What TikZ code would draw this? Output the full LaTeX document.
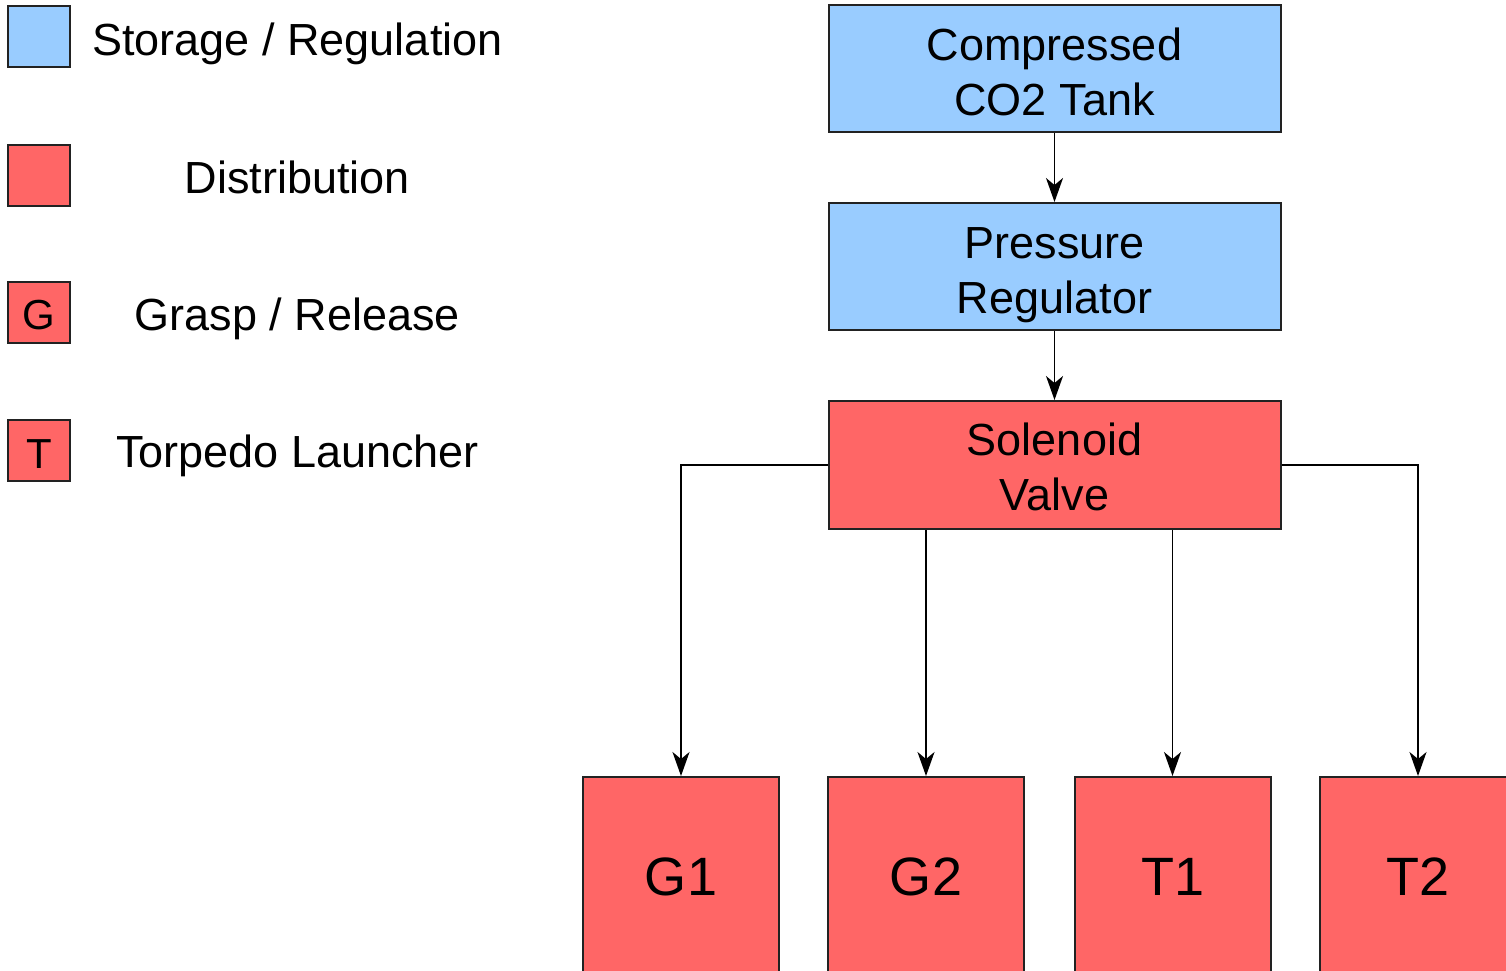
\documentclass[tikz,border=0pt]{standalone}
\usepackage{fontspec}
\setmainfont{Liberation Sans}
\usetikzlibrary{arrows.meta}
\definecolor{blu}{HTML}{99CCFF}
\definecolor{rd}{HTML}{FF6666}
\definecolor{edge}{HTML}{222222}
\tikzset{
  box/.style={draw=edge, line width=2pt, rectangle, inner sep=0pt, align=center,
    font=\fontsize{45}{55}\selectfont},
  mainbox/.style={box, minimum width=452pt, minimum height=127pt, text height=93pt, text depth=0pt},
  endbox/.style={box, fill=rd, minimum width=196pt, minimum height=198pt,
    font=\fontsize{54}{60}\selectfont, text height=39pt, text depth=0pt},
  legbox/.style={box, minimum width=62pt, minimum height=61pt,
    font=\fontsize{42}{44}\selectfont, text height=35pt, text depth=0pt},
  legtext/.style={anchor=base, inner sep=0pt, font=\fontsize{45}{55}\selectfont},
  conn/.style={draw=black, line width=1.8pt, -{Stealth[length=24pt,width=17pt,inset=7pt]}}
}
\begin{document}
\begin{tikzpicture}[x=1pt,y=-1pt]
\useasboundingbox (0,0) rectangle (1506,970);
\clip (0,0) rectangle (1506,970);
% legend
\node[legbox, fill=blu] (lb1) at (39,36.5) {};
\node[legbox, fill=rd] (lb2) at (39,175) {};
\node[legbox, fill=rd] (lb3) at (39,312) {G};
\node[legbox, fill=rd] (lb4) at (39,450.5) {T};
\node[legtext] (lt1) at (297.5,55) {Storage / Regulation};
\node[legtext] (lt2) at (297.5,193) {Distribution};
\node[legtext] (lt3) at (297.5,330) {Grasp / Release};
\node[legtext] (lt4) at (297.5,467) {Torpedo Launcher};
% main chain
\node[mainbox, fill=blu] (cmp) at (1054.5,68.5) {Compressed\\CO2 Tank};
\node[mainbox, fill=blu] (prs) at (1054.5,266.5) {Pressure\\Regulator};
\node[mainbox, fill=rd, minimum height=128pt, text height=90pt] (sol) at (1054.5,465) {Solenoid\\Valve};
% end boxes
\node[endbox] (g1) at (681,876) {G1};
\node[endbox] (g2) at (926,876) {G2};
\node[endbox] (t1) at (1172.5,876) {T1};
\node[endbox] (t2) at (1418,876) {T2};
% connectors
\draw[conn] (cmp.south) -- (prs.north);
\draw[conn] (prs.south) -- (sol.north);
\draw[conn] (sol.west) -| (g1.north);
\draw[conn] (sol.east) -| (t2.north);
\draw[conn] (sol.south -| g2.north) -- (g2.north);
\draw[conn] (sol.south -| t1.north) -- (t1.north);
\end{tikzpicture}
\end{document}
